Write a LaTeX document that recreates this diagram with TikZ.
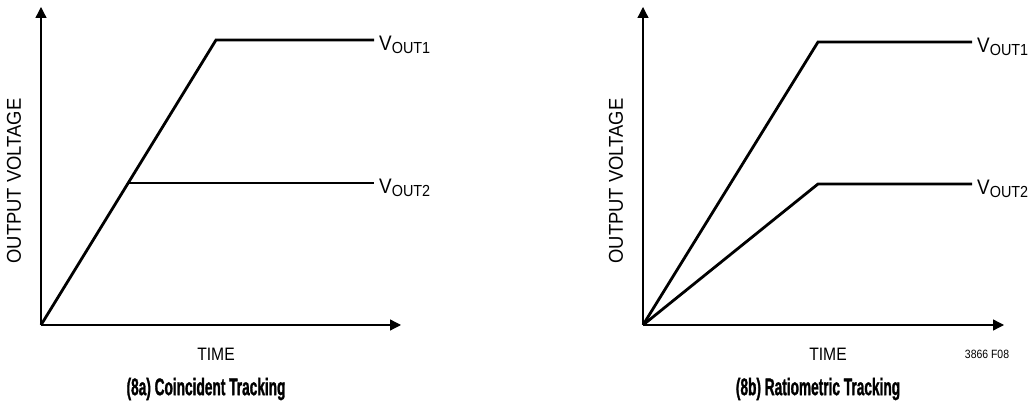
\documentclass[tikz,border=0pt]{standalone}
\usepackage{fontspec}
\setmainfont{Liberation Sans}[FakeStretch=0.87]
\newfontfamily\ttlfont{Liberation Sans Bold}[FakeStretch=0.57, FakeBold=1.2]
\newfontfamily\yfont{Liberation Sans}[FakeStretch=0.92]
\newfontfamily\vfont{Liberation Sans}[FakeStretch=0.9]
\usetikzlibrary{arrows.meta}

\tikzset{
  axis/.style={line width=1.3pt, -{Triangle[length=11pt,width=11pt]}},
  trace/.style={line width=2.8pt, line join=miter},
  lbl/.style={font=\fontsize{18}{18}\selectfont, inner sep=0pt},
  ylbl/.style={font=\yfont\fontsize{20}{20}\selectfont, inner sep=0pt, rotate=90},
  ttl/.style={font=\ttlfont\fontsize{24}{24}\selectfont, inner sep=0pt},
  vlbl/.style={anchor=base west, inner sep=0pt, font=\vfont\fontsize{21}{21}\selectfont}
}
\newcommand{\vout}[1]{V\raisebox{-3pt}{\fontsize{16}{16}\selectfont OUT#1}}

\begin{document}
\begin{tikzpicture}[x=1pt,y=1pt]

  \useasboundingbox (0,0) rectangle (1030,406);

  % (8a) coincident tracking
  \begin{scope}[shift={(41,81)}]
    % axes
    \draw[axis] (0,0) -- (0,318);
    \draw[axis] (0,0) -- (360,0);
    \node[ylbl] (ya) at (-27,144) {OUTPUT VOLTAGE};
    \node[lbl] (xa) at (175,-29) {TIME};

    % outputs
    \draw[trace] (0,0) -- (175,285) -- (333,285);
    \draw[trace] (87.3,142) -- (333,142);
    \node[vlbl] (a1) at (338,274) {\vout{1}};
    \node[vlbl] (a2) at (338,131) {\vout{2}};

    \node[ttl] (ta) at (165,-64) {(8a) Coincident Tracking};
  \end{scope}

  % (8b) ratiometric tracking
  \begin{scope}[shift={(643,81)}]
    % axes
    \draw[axis] (0,0) -- (0,318);
    \draw[axis] (0,0) -- (361,0);
    \node[ylbl] (yb) at (-27,144) {OUTPUT VOLTAGE};
    \node[lbl] (xb) at (185,-29) {TIME};
    \node[inner sep=0pt, font=\fontsize{12}{12}\selectfont] (fig) at (344,-29) {3866 F08};

    % outputs
    \draw[trace] (0,0) -- (175,283) -- (329,283);
    \draw[trace] (0,0) -- (175,141) -- (329,141);
    \node[vlbl] (b1) at (334,272) {\vout{1}};
    \node[vlbl] (b2) at (334,130) {\vout{2}};

    \node[ttl] (tb) at (175,-64) {(8b) Ratiometric Tracking};
  \end{scope}

\end{tikzpicture}
\end{document}
